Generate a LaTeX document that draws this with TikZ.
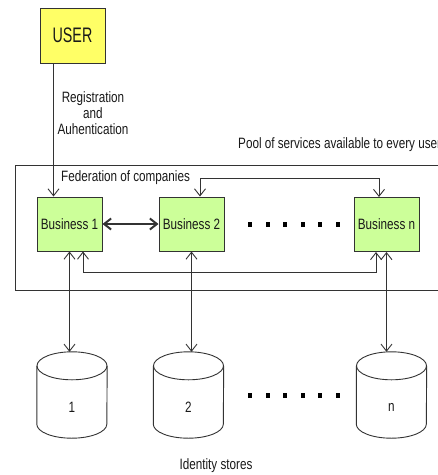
\documentclass[tikz,border=0pt]{standalone}
\usepackage{fontspec}
\setmainfont{Liberation Sans}[FakeStretch=0.78]
\newfontfamily\userfont{Liberation Sans}[FakeStretch=0.68]
\usetikzlibrary{arrows.meta,calc}
\definecolor{useryellow}{HTML}{FFFF66}
\definecolor{bizgreen}{HTML}{CCFF99}
\definecolor{ink}{HTML}{333333}
\begin{document}
\begin{tikzpicture}[x=1pt,y=-1pt,
  >={Straight Barb[length=7pt,width=11pt]},
  every node/.style={font=\fontsize{15}{16}\selectfont,text=black!90},
  biz/.style={draw=ink,fill=bizgreen,minimum width=65pt,minimum height=54pt,inner sep=0pt,line width=1pt},
  userbox/.style={draw=ink,fill=useryellow,minimum width=65pt,minimum height=55pt,inner sep=0pt,line width=1pt,font=\userfont\fontsize{21}{22}\selectfont},
  link/.style={draw=ink,line width=0.9pt},
  lbl/.style={inner sep=0pt},
  dotsq/.style={fill=black,minimum width=4pt,minimum height=5pt,inner sep=0pt},
  store/.style={minimum width=70pt,minimum height=86pt,inner sep=0pt},
  storeline/.style={draw=ink,line width=0.9pt}
]
\useasboundingbox (0,0) rectangle (438,475);

% outer frame (right side lies beyond the picture)
\draw[ink,line width=1pt] (445,165) -- (15,165) -- (15,290) -- (445,290);

\node[userbox] (user) at (72.5,35.5) {USER};
\node[lbl,align=center] (reg) at (93,113) {Registration\\and\\Auhentication};
\node[lbl,anchor=west] (pool) at (238,145) {Pool of services available to every user};
\node[lbl,anchor=west] (fed) at (61,178) {Federation of companies};

\node[biz] (b1) at (69.5,224) {Business 1};
\node[biz] (b2) at (191.5,224) {Business 2};
\node[biz] (bn) at (386.5,224.5) {Business n};

% dots between businesses and between stores
\foreach \i in {0,...,5} {
  \node[dotsq] (dt\i) at (250+17.6*\i,224) {};
  \node[dotsq] (db\i) at (250+17.6*\i,395) {};
}

% identity stores
\foreach \n/\cx/\t in {c1/72/1,c2/188.5/2,cn/391.5/n} {
  \node[store] (\n) at (\cx,395) {};
  \draw[storeline] ($(\n.north)+(0,14)$) ellipse[x radius=35pt,y radius=14pt];
  \draw[storeline] ($(\n.north west)+(0,14)$) -- ($(\n.south west)+(0,-14)$)
     arc[start angle=180,end angle=360,x radius=35pt,y radius=14pt]
     -- ($(\n.north east)+(0,14)$);
  \node[lbl] (\n l) at (\cx,407) {\t};
}
\node[lbl] (ids) at (216,466) {Identity stores};

% connectors
\coordinate (ua) at ($(user.south west)+(14,0)$);
\draw[link,->] (ua) -- (ua |- b1.north);

\draw[link,line width=2pt,<->] (b1.east) -- (b2.west);

\draw[link,<->] ($(b2.north)+(8.5,0)$) -- ++(0,-18) -| ($(bn.north)+(-7.5,0)$);
\draw[link,<->] ($(b1.south)+(13.5,0)$) -- ++(0,21) -| ($(bn.south)+(-10.5,0)$);

\draw[link,<->] (b1.south) -- (b1.south |- c1.north);
\draw[link,<->] (b2.south) -- (b2.south |- c2.north);
\draw[link,<->] (bn.south) -- (bn.south |- cn.north);
\end{tikzpicture}
\end{document}
